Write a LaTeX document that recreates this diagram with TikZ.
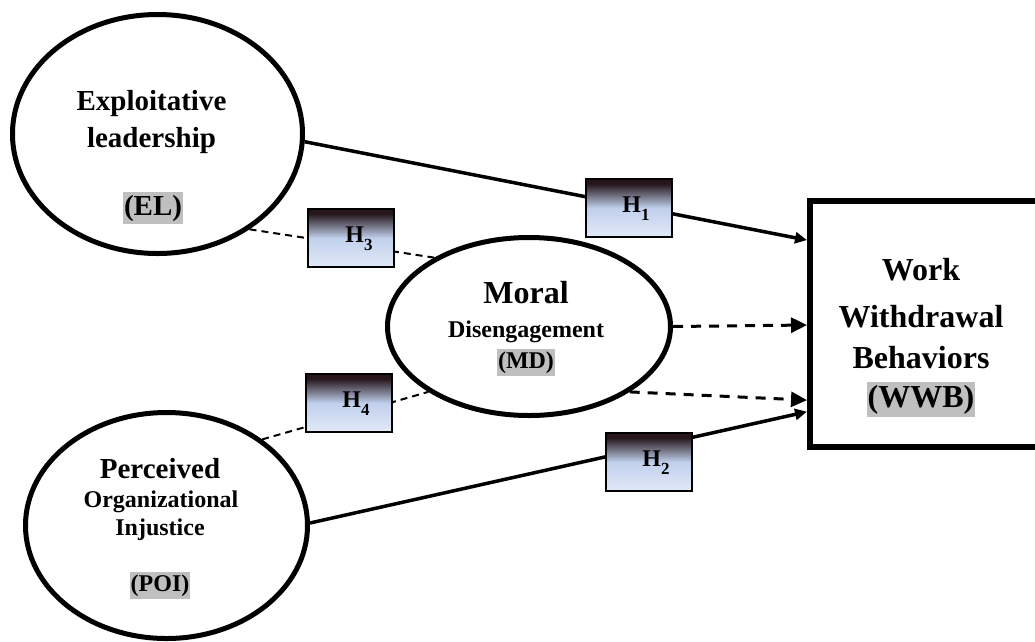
\documentclass[tikz,border=0pt]{standalone}
\usepackage{fontspec}
\setmainfont{Liberation Serif}
\usetikzlibrary{shapes.geometric,arrows.meta,calc}
\definecolor{hdark}{RGB}{38,22,28}
\definecolor{hmid}{RGB}{192,208,236}
\definecolor{hlight}{RGB}{226,233,247}
\definecolor{hlgray}{RGB}{191,191,191}
\pgfdeclareverticalshading{hgrad}{100bp}{color(0bp)=(hlight); color(25bp)=(hlight); color(50bp)=(hmid); color(71bp)=(hdark); color(100bp)=(hdark)}
\tikzset{
  construct/.style={ellipse, draw, line width=5pt, inner sep=0pt, fill=white},
  outcome/.style={rectangle, draw, line width=6pt, inner sep=0pt, fill=white},
  hyp/.style={rectangle, draw, line width=2pt, shading=hgrad, minimum width=86pt, minimum height=58pt, inner sep=0pt},
  txt/.style={anchor=base, inner sep=0pt},
  hilite/.style={anchor=base, fill=hlgray, inner xsep=1pt, inner ysep=1.5pt, text height=0.75*#1, text depth=0.25*#1},
  solidc/.style={line width=3.5pt, -{Triangle[length=12pt,width=11pt]}},
  dashc/.style={line width=2pt, dash pattern=on 7pt off 5pt},
  dasharr/.style={line width=3pt, dash pattern=on 10pt off 8pt, -{Triangle[length=16pt,width=15pt]}}
}
\newcommand{\hlab}[1]{\fontsize{24}{24}\selectfont\bfseries H\raisebox{-8pt}{\fontsize{17}{17}\selectfont\bfseries #1}}
\begin{document}
\begin{tikzpicture}[x=1pt,y=-1pt]
\useasboundingbox (0,0) rectangle (1035,641);
% constructs
\node[construct, minimum width=290pt, minimum height=239pt] (EL) at (157.5,134) {};
\node[construct, minimum width=282pt, minimum height=226pt] (POI) at (166.5,525.5) {};
\node[construct, minimum width=283pt, minimum height=178pt] (MD) at (529,326.5) {};
\node[outcome, minimum width=235pt, minimum height=246pt] (WWB) at (927.5,323.5) {};
% texts
\node[txt, font=\fontsize{29}{35}\selectfont\bfseries] (el1) at (151.5,110) {Exploitative};
\node[txt, font=\fontsize{29}{35}\selectfont\bfseries] (el2) at (151.5,147) {leadership};
\node[hilite=29pt, font=\fontsize{29}{35}\selectfont\bfseries] (el3) at (153,215) {(EL)};
\node[txt, font=\fontsize{32}{38}\selectfont\bfseries] (md1) at (526,303) {Moral};
\node[txt, font=\fontsize{24}{29}\selectfont\bfseries] (md2) at (526,337) {Disengagement};
\node[hilite=24pt, font=\fontsize{24}{29}\selectfont\bfseries] (md3) at (526,368) {(MD)};
\node[txt, font=\fontsize{29}{35}\selectfont\bfseries] (poi1) at (160,478) {Perceived};
\node[txt, font=\fontsize{24}{29}\selectfont\bfseries] (poi2) at (161,507) {Organizational};
\node[txt, font=\fontsize{24}{29}\selectfont\bfseries] (poi3) at (160,535) {Injustice};
\node[hilite=24pt, font=\fontsize{24}{29}\selectfont\bfseries] (poi4) at (160,591) {(POI)};
\node[txt, font=\fontsize{32}{38}\selectfont\bfseries] (w1) at (921,280) {Work};
\node[txt, font=\fontsize{32}{38}\selectfont\bfseries] (w2) at (921,327) {Withdrawal};
\node[txt, font=\fontsize{32}{38}\selectfont\bfseries] (w3) at (921,368) {Behaviors};
\node[hilite=32pt, font=\fontsize{32}{38}\selectfont\bfseries] (w4) at (921,407) {(WWB)};
% connectors
\draw[solidc] (EL.-3.5) -- ($(WWB.north west)!0.169!(WWB.south west)$);
\draw[solidc] (POI.1.4) -- ($(WWB.north west)!0.85!(WWB.south west)$);
\draw[dashc] (EL.-46.3) -- (MD.144);
\draw[dashc] (POI.42.2) -- (MD.213.4);
\draw[dasharr] (MD.0) -- ($(WWB.north west)!0.506!(WWB.south west)$);
\draw[dasharr] (MD.-33) -- ($(WWB.north west)!0.804!(WWB.south west)$);
% hypothesis boxes
\node[hyp] (H1) at (628.5,208) {};
\node[hyp] (H2) at (648.5,462) {};
\node[hyp] (H3) at (351,238) {};
\node[hyp] (H4) at (348.5,403) {};
\node[txt, anchor=center] (h1t) at (636,209) {\hlab{1}};
\node[txt, anchor=center] (h2t) at (656,463) {\hlab{2}};
\node[txt, anchor=center] (h3t) at (359,239) {\hlab{3}};
\node[txt, anchor=center] (h4t) at (356,404) {\hlab{4}};
\end{tikzpicture}
\end{document}
